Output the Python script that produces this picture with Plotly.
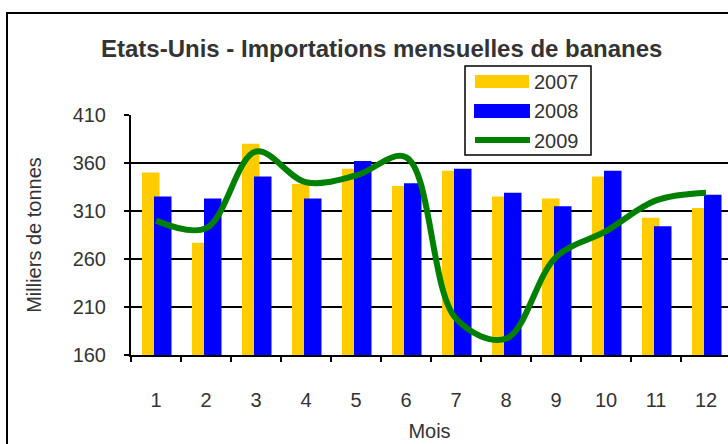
import plotly.graph_objects as go

# ---- data ----
months = ["1", "2", "3", "4", "5", "6", "7", "8", "9", "10", "11", "12"]
imports_2007 = [350, 277, 380, 338, 354, 336, 352, 325, 323, 346, 303, 313]
imports_2008 = [325, 323, 346, 323, 362, 339, 354, 329, 315, 352, 294, 327]
imports_2009 = [300, 292, 372, 340, 347, 366, 198, 177, 262, 289, 321, 329]
y_ticks = [160, 210, 260, 310, 360, 410]
series_names = ["2007", "2008", "2009"]

FONT = "Liberation Sans, Arial, sans-serif"
TXT = "#333333"
YELLOW = "#FFCC00"
BLUE = "#0000FF"
GREEN = "#008000"

W, H = 728, 444
ML, MR, MT, MB = 131, 0, 115, 89
PW = W - ML - MR
PH = H - MT - MB


def px(x):
    return (x - ML) / PW


def py(y):
    return (H - MB - y) / PH


fig = go.Figure()
fig.add_trace(go.Bar(x=months, y=imports_2007, name=series_names[0],
                     marker=dict(color=YELLOW, line=dict(width=0)),
                     offset=-0.28, width=0.35, showlegend=False))
fig.add_trace(go.Bar(x=months, y=imports_2008, name=series_names[1],
                     marker=dict(color=BLUE, line=dict(width=0)),
                     offset=-0.04, width=0.35, showlegend=False))
fig.add_trace(go.Scatter(x=months, y=imports_2009, name=series_names[2],
                         mode="lines",
                         line=dict(color=GREEN, width=6, shape="spline", smoothing=1.0),
                         showlegend=False))

shapes = []
annotations = []

# outer chart border
shapes.append(dict(type="rect", xref="paper", yref="paper",
                   x0=px(7), x1=px(760), y0=py(470), y1=py(13),
                   line=dict(color="black", width=2), fillcolor="rgba(0,0,0,0)",
                   layer="above"))

# legend box
shapes.append(dict(type="rect", xref="paper", yref="paper",
                   x0=px(465), x1=px(591), y0=py(155), y1=py(66),
                   line=dict(color="black", width=1.5), fillcolor="white",
                   layer="above"))
# legend swatches
shapes.append(dict(type="rect", xref="paper", yref="paper",
                   x0=px(475), x1=px(529), y0=py(88), y1=py(75),
                   line=dict(width=0), fillcolor=YELLOW, layer="above"))
shapes.append(dict(type="rect", xref="paper", yref="paper",
                   x0=px(474), x1=px(530), y0=py(118), y1=py(104),
                   line=dict(width=0), fillcolor=BLUE, layer="above"))
shapes.append(dict(type="line", xref="paper", yref="paper",
                   x0=px(475), x1=px(530), y0=py(140), y1=py(140),
                   line=dict(color=GREEN, width=6), layer="above"))
for name, yc in zip(series_names, [82, 111, 141]):
    annotations.append(dict(text=name, xref="paper", yref="paper",
                            x=px(532), y=py(yc), xanchor="left", yanchor="middle",
                            showarrow=False, font=dict(size=20, color=TXT, family=FONT)))

# title
annotations.append(dict(text="<b>Etats-Unis - Importations mensuelles de bananes</b>",
                        xref="paper", yref="paper", x=px(381), y=py(48),
                        xanchor="center", yanchor="middle", showarrow=False,
                        font=dict(size=24, color=TXT, family=FONT)))

fig.update_layout(
    width=W, height=H,
    margin=dict(l=ML, r=MR, t=MT, b=MB, pad=0),
    paper_bgcolor="white", plot_bgcolor="white",
    barmode="overlay",
    font=dict(family=FONT, size=20, color=TXT),
    shapes=shapes, annotations=annotations,
    showlegend=False,
)
fig.update_xaxes(
    type="category", range=[-0.5, 11.44],
    showline=True, linecolor="black", linewidth=2,
    ticks="outside", tickson="boundaries", ticklen=5, tickwidth=2, tickcolor="black",
    showgrid=False, tickfont=dict(size=20, color=TXT, family=FONT),
    ticklabelstandoff=26,
    title=dict(text="Mois", font=dict(size=20, color=TXT, family=FONT), standoff=14),
)
fig.update_yaxes(
    range=[160, 410], tickvals=y_ticks, ticktext=[str(v) for v in y_ticks],
    showline=True, linecolor="black", linewidth=2,
    ticks="outside", ticklen=5, tickwidth=2, tickcolor="black",
    showgrid=True, gridcolor="black", gridwidth=1.7, zeroline=False,
    tickfont=dict(size=20, color=TXT, family=FONT),
    ticklabelstandoff=14,
    title=dict(text="Milliers de tonnes", font=dict(size=20, color=TXT, family=FONT), standoff=26),
)

fig.write_html("out.html",
               config={"displayModeBar": False},
               post_script="document.body.style.margin='0px';document.body.style.overflow='hidden';")
